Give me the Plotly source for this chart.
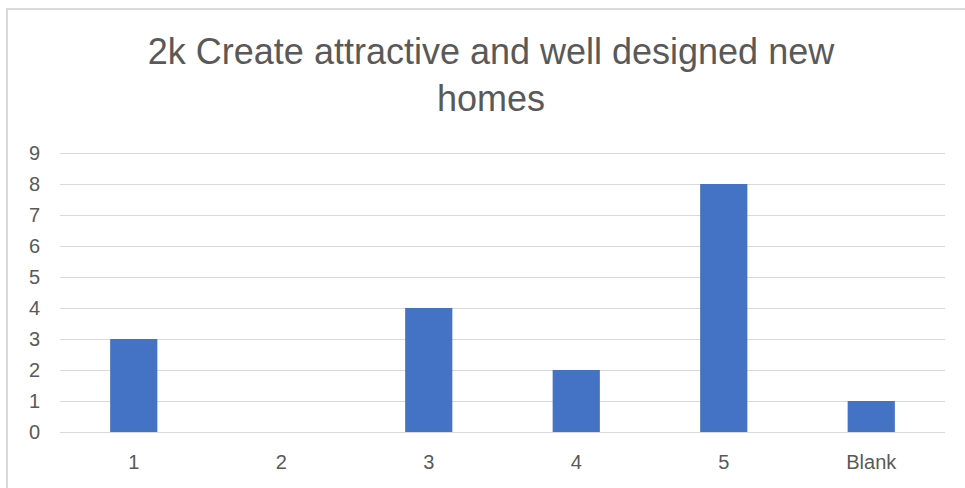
import plotly.graph_objects as go

categories = ["1", "2", "3", "4", "5", "Blank"]
values = [3, 0, 4, 2, 8, 1]
y_ticks = list(range(0, 10))

fig = go.Figure(go.Bar(x=categories, y=values, marker=dict(color="#4472C4", line=dict(width=0))))

L, R, T, B = 60, 20, 150, 56
W, H = 965, 488
pw = W - L - R
ph = H - T - B

fig.update_layout(
    width=W, height=H,
    margin=dict(l=L, r=R, t=T, b=B),
    paper_bgcolor="white", plot_bgcolor="white",
    bargap=0.68,
    showlegend=False,
    font=dict(family="Liberation Sans, Arial, sans-serif", color="#595959"),
    title=dict(
        text="2k Create attractive and well designed new<br>homes",
        x=(491 - L) / pw, xref="paper", xanchor="center",
        y=1 - 64 / H, yref="container", yanchor="middle",
        font=dict(size=36, color="#595959"),
    ),
    xaxis=dict(
        type="category", showgrid=False, showline=True, linecolor="#d9d9d9", linewidth=1,
        tickfont=dict(size=20, color="#595959"), ticks="", ticklabelstandoff=12,
    ),
    yaxis=dict(
        range=[0, 9.1], tickvals=y_ticks, showgrid=True, gridcolor="#d9d9d9", gridwidth=1,
        zeroline=False, showline=False,
        tickfont=dict(size=20, color="#595959"), ticks="", ticklabelstandoff=19,
    ),
    shapes=[dict(
        type="rect", xref="paper", yref="paper",
        x0=(7 - L) / pw, x1=(990 - L) / pw,
        y0=-0.3, y1=(H - B - 9) / ph,
        line=dict(color="#d9d9d9", width=2), fillcolor="rgba(0,0,0,0)", layer="below",
    )],
)

fig.write_html(
    "out.html",
    config={"displayModeBar": False},
    post_script="document.body.style.margin='0';document.body.style.overflow='hidden';",
)
